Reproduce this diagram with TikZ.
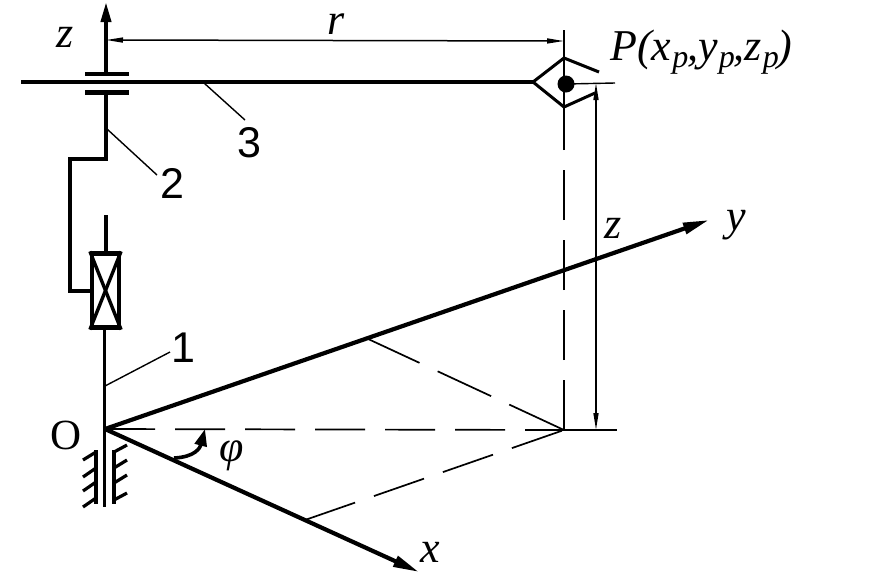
\documentclass[tikz,border=0pt]{standalone}
\usepackage{fontspec}
\setmainfont{Liberation Serif}
\newfontfamily\numfont{Liberation Sans}
\usepackage{tikz}
\usetikzlibrary{arrows.meta,positioning}
\newcommand{\subp}{\raisebox{-0.32ex}{\fontsize{32}{32}\selectfont\kern1pt p\kern-1pt}}

\begin{document}
\begin{tikzpicture}
[x=1pt,y=-1pt,
shaft/.style={line width=3.8pt},
axisline/.style={line width=4.2pt,-{Stealth[length=26pt,width=11pt,inset=0pt]}},
thinline/.style={line width=1.4pt},
dimline/.style={line width=1.5pt,{Stealth[length=17pt,width=5pt,inset=0pt]}-{Stealth[length=17pt,width=5pt,inset=0pt]}},
dashline/.style={line width=1.7pt,dash pattern=on 50pt off 20pt},
hatch/.style={line width=3.2pt},
lab/.style={font=\itshape\fontsize{44}{44}\selectfont,inner sep=0pt},
num/.style={font=\numfont\fontsize{43}{43}\selectfont,inner sep=0pt}];
\useasboundingbox (0,0) rectangle (872,574);

% main points
\coordinate (O) at (105,429);
\coordinate (ztop) at (106,2);
\coordinate (yend) at (709,220);
\coordinate (xend) at (419,572);
\coordinate (foot) at (564,430);
\coordinate (footr) at (617,430);
\coordinate (onY) at (366,338);
\coordinate (onX) at (305,520);

% labels
\node[lab] (zleft) at (65,37) {z};
\node[lab] (rlab) at (336,24) {r};
\node[lab,anchor=west] (Plab) at (610,52) {P(x\subp,y\subp,z\subp)};
\node[lab] (zdim) at (613,228) {z};
\node[lab] (ylab) at (736,225) {y};
\node[lab] (xlab) at (430,552) {x};
\node[lab] (philab) at (232,456) {φ};
\node[font=\fontsize{43}{43}\selectfont,inner sep=0pt] (Olab) at (66,435) {O};
\node[num] (n1) at (183,348) {1};
\node[num] (n2) at (172,183) {2};
\node[num] (n3) at (249,143) {3};

% link 3 and the upper joint
\coordinate (armL) at (21,82);
\coordinate (armR) at (533,82);
\draw[shaft] (armL) -- (armR);
\draw[line width=4.4pt] (85,74) -- (129,74);
\draw[line width=4.4pt] (85,92.5) -- (129,92.5);
\draw[line width=3.8pt,-{Stealth[length=20pt,width=10pt,inset=0pt]}] (106,74) -- (ztop);

% link 2
\draw[shaft] (106,93) -- (106,159) -- (70,159) -- (70,291) -- (91,291);
\draw[shaft] (106,215) -- (106,252);

% sliding joint
\node[draw,line width=4.2pt,minimum width=27pt,minimum height=74pt,inner sep=0pt] (slider) at (105.5,290.5) {};
\draw[line width=3.4pt] (slider.north west) -- (slider.south east);
\draw[line width=3.4pt] (slider.north east) -- (slider.south west);

% link 1 and the ground
\coordinate (shaftend) at (104.5,507);
\draw[shaft] (slider.south -| shaftend) -- (shaftend);
\draw[line width=4pt] (96,450) -- (96,504);
\draw[line width=4pt] (114,450) -- (114,504);
\foreach \a/\b in {452/460,468/477,482/491,498/507}
  \draw[hatch] (96,\a) -- (83,\b);
\foreach \a/\b in {452/445,468/460,483/475,500/493}
  \draw[hatch] (114,\a) -- (127,\b);

% axes
\draw[axisline] (O) -- (yend);
\draw[axisline] (O) -- (xend);

% projections
\draw[dashline] (O) -- (foot);
\draw[dashline,dash pattern=on 59pt off 20pt] (onY) -- (foot);
\draw[dashline,dash pattern=on 53pt off 20pt] (onX) -- (foot);
\draw[dashline] (foot) -- (564,107);
\draw[thinline] (foot) -- (footr);

% point P
\coordinate (eyeT) at (564,58);
\coordinate (eyeB) at (564,107);
\draw[line width=3pt] (599,72) -- (eyeT) -- (armR) -- (eyeB) -- (595,93);
\node[circle,fill,minimum size=17pt,inner sep=0pt] (Pdot) at (566,84) {};
\draw[thinline] (Pdot.center) -- (615,83);
\draw[thinline] (564,30) -- (eyeT);
\draw[thinline] (eyeT) -- (eyeB);

% dimensions
\draw[dimline] (ztop |- 0,40) -- (564,41);
\draw[dimline] (596,83) -- (596,430);

% leaders
\coordinate (end3) at (245,120);
\coordinate (end2) at (157,175);
\draw[thinline] (204,83) -- (end3);
\draw[thinline] (107,129) -- (end2);
\draw[thinline] (105,386) -- (170,352);

% angle
\draw[line width=3.6pt,-{Stealth[length=17pt,width=12pt,inset=0pt]}] (174,458) .. controls (195,457) and (200,448) .. (205,429);
\end{tikzpicture}
\end{document}
